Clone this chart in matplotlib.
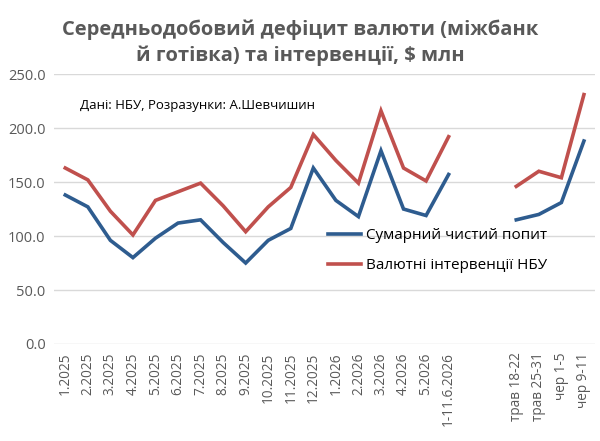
import numpy as np
import matplotlib
matplotlib.use("Agg")
import matplotlib.pyplot as plt

plt.rcParams["font.family"] = ["Open Sans", "DejaVu Sans"]

# categories (two empty slots between the monthly and weekly parts)
labels = ["1.2025", "2.2025", "3.2025", "4.2025", "5.2025", "6.2025",
          "7.2025", "8.2025", "9.2025", "10.2025", "11.2025", "12.2025",
          "1.2026", "2.2026", "3.2026", "4.2026", "5.2026", "1-11.6.2026",
          "", "",
          "трав 18-22", "трав 25-31", "чер 1-5", "чер 9-11"]

demand = [138, 127, 96, 80, 98, 112, 115, 94, 75, 96, 107, 163,
          133, 118, 179, 125, 119, 157,
          np.nan, np.nan,
          115, 120, 131, 188]
interventions = [163, 152, 123, 101, 133, 141, 149, 128, 104, 127, 145, 194,
                 170, 149, 216, 163, 151, 192,
                 np.nan, np.nan,
                 146, 160, 154, 231]

blue = "#2E5C8F"
red = "#C0504D"
gray = "#595959"

fig = plt.figure(figsize=(6, 4.41), dpi=100)
ax = fig.add_axes([0.09, 0.22, 0.902, 0.612])

x = np.arange(len(labels))
ax.plot(x, demand, color=blue, lw=2.6, label="Сумарний чистий попит",
        solid_joinstyle="miter")
ax.plot(x, interventions, color=red, lw=2.6, label="Валютні інтервенції НБУ",
        solid_joinstyle="miter")

ax.set_xlim(-0.5, len(labels) - 0.5)
ax.set_ylim(0, 250)
ax.set_yticks(np.arange(0, 251, 50))
ax.set_yticklabels([f"{v:.1f}" for v in np.arange(0, 251, 50)],
                   fontsize=10.5, color=gray)
ax.set_xticks(x)
ax.set_xticklabels(labels, rotation=90, fontsize=9.8, color=gray)
ax.tick_params(length=0, pad=6)
ax.grid(axis="y", color="#D9D9D9", lw=1)
ax.set_axisbelow(True)
for s in ax.spines.values():
    s.set_visible(False)

ax.text(0.048, 0.87, "Дані: НБУ, Розразунки: А.Шевчишин", transform=ax.transAxes,
        fontsize=9.5, color="black")

ax.legend(loc="upper left", bbox_to_anchor=(0.48, 0.48), frameon=False,
          fontsize=11, handlelength=2.2, labelspacing=1.0, handletextpad=0.3,
          labelcolor="black")

fig.text(0.5, 0.955, "Середньодобовий дефіцит валюти (міжбанк\nй готівка) та інтервенції, $ млн",
         ha="center", va="top", fontsize=14.5, fontweight="bold", color=gray,
         linespacing=1.35)

fig.savefig("out.png", dpi=100, facecolor="white")
